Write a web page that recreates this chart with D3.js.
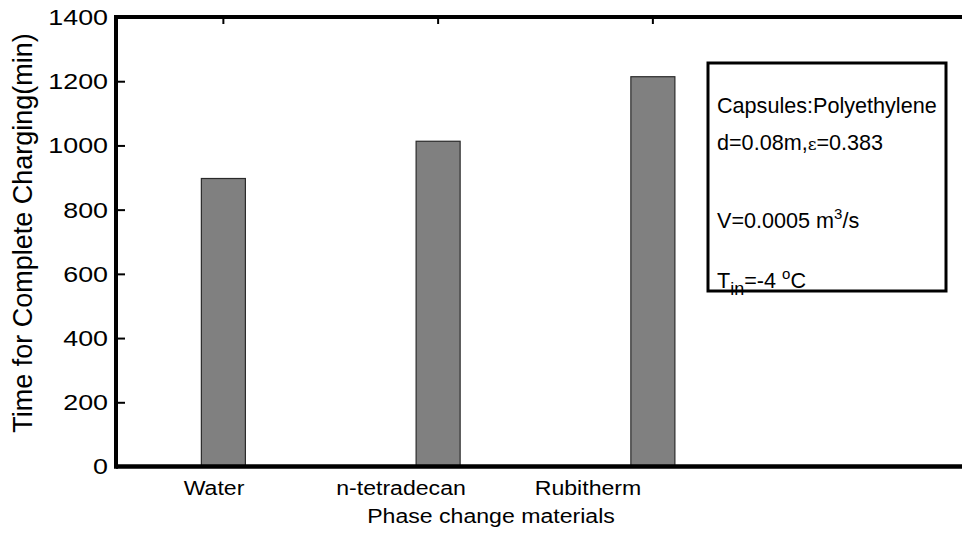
<!DOCTYPE html>
<html>
<head>
<meta charset="utf-8">
<script src="https://cdn.jsdelivr.net/npm/d3@7"></script>
<style>
  html, body { margin: 0; padding: 0; background: #fff; overflow: hidden; }
  svg { display: block; font-family: "Liberation Sans", Arial, sans-serif; }
</style>
</head>
<body>
<svg id="chart" width="962" height="533"></svg>
<script>
// Charging time for each phase change material
const materials = ["Water", "n-tetradecan", "Rubitherm"];
const chargeTime = [897, 1013, 1214];
const yTicks = [0, 200, 400, 600, 800, 1000, 1200, 1400];
const noteLines = ["Capsules:Polyethylene", "d=0.08m,\u03b5=0.383", "V=0.0005 m", "T"];

const svg = d3.select("#chart");
const W = 962, H = 533;
const plotLeft = 116, plotTop = 17, plotBottom = 466.5;

// category positions for the bars and for the tick text
const x = d3.scaleLinear().domain([0.5, 4.5]).range([plotLeft, 975]);
const xText = d3.scaleLinear().domain([0.5, 4.5]).range([120, 868]);
const y = d3.scaleLinear().domain([0, 1400]).range([plotBottom, plotTop]);
const barW = 0.205;

// bars
svg.append("g").selectAll("rect")
  .data(chargeTime)
  .join("rect")
  .attr("x", (d, i) => x(i + 1 - barW / 2))
  .attr("width", (d, i) => x(i + 1 + barW / 2) - x(i + 1 - barW / 2))
  .attr("y", d => y(d))
  .attr("height", d => y(0) - y(d))
  .attr("fill", "#808080")
  .attr("stroke", "#2a2a2a")
  .attr("stroke-width", 1.2);

// y axis ticks (inward) and labels
const yAxis = svg.append("g").attr("transform", `translate(${plotLeft + 1},0)`)
  .call(d3.axisRight(y).tickValues(yTicks).tickSize(8).tickFormat(""));
yAxis.select(".domain").remove();
yAxis.selectAll("line").attr("stroke", "#000").attr("stroke-width", 2);

svg.append("g").selectAll("text")
  .data(yTicks)
  .join("text")
  .attr("transform", d => `translate(${plotLeft - 8},${y(d)}) scale(1.22,1)`)
  .attr("text-anchor", "end")
  .attr("dy", "0.36em")
  .attr("font-size", 22)
  .attr("fill", "#000")
  .text(d => d);

// top axis tick marks
svg.append("g").selectAll("line")
  .data(materials)
  .join("line")
  .attr("x1", (d, i) => x(i + 1)).attr("x2", (d, i) => x(i + 1))
  .attr("y1", plotTop).attr("y2", plotTop + 7)
  .attr("stroke", "#000").attr("stroke-width", 2);

// axis frame
svg.append("line").attr("x1", plotLeft).attr("x2", W).attr("y1", plotTop).attr("y2", plotTop)
  .attr("stroke", "#000").attr("stroke-width", 4);
svg.append("line").attr("x1", plotLeft).attr("x2", W).attr("y1", plotBottom).attr("y2", plotBottom)
  .attr("stroke", "#000").attr("stroke-width", 4.5);
svg.append("line").attr("x1", plotLeft).attr("x2", plotLeft).attr("y1", plotTop - 2).attr("y2", plotBottom + 2.25)
  .attr("stroke", "#000").attr("stroke-width", 4);

// category labels
const xAxis = svg.append("g").attr("transform", `translate(0,${plotBottom})`)
  .call(d3.axisBottom(xText).tickValues([1, 2, 3]).tickSize(0)
    .tickFormat((d, i) => materials[i]));
xAxis.select(".domain").remove();
xAxis.selectAll("text")
  .attr("font-family", "Liberation Sans, Arial, sans-serif")
  .attr("font-size", 21)
  .attr("fill", "#000")
  .attr("y", 0)
  .attr("dy", 0)
  .attr("transform", "translate(0,28.5) scale(1.1,1)");

// axis titles
svg.append("text")
  .attr("transform", `translate(491,523) scale(1.1,1)`)
  .attr("text-anchor", "middle")
  .attr("font-size", 21)
  .text("Phase change materials");

svg.append("text")
  .attr("transform", "translate(32,233) rotate(-90)")
  .attr("text-anchor", "middle")
  .attr("font-size", 27)
  .text("Time for Complete Charging(min)");

// annotation box
const note = svg.append("g");
note.append("rect")
  .attr("x", 708).attr("y", 63).attr("width", 238).attr("height", 228)
  .attr("fill", "#fff").attr("stroke", "#000").attr("stroke-width", 3);

const fs = 21.6;
const noteY = [113, 150, 228, 288];
note.append("text").attr("x", 717).attr("y", noteY[0]).attr("font-size", fs).text(noteLines[0]);

const l2 = note.append("text").attr("x", 717).attr("y", noteY[1]).attr("font-size", fs);
l2.append("tspan").text("d=0.08m,");
l2.append("tspan").attr("font-family", "DejaVu Serif, serif").attr("font-size", 17).text("\u03b5");
l2.append("tspan").text("=0.383");

const l3 = note.append("text").attr("x", 717).attr("y", noteY[2]).attr("font-size", fs);
l3.append("tspan").text(noteLines[2]);
l3.append("tspan").attr("dy", -9).attr("font-size", 15).text("3");
l3.append("tspan").attr("dy", 9).text("/s");

const l4 = note.append("text").attr("x", 717).attr("y", noteY[3]).attr("font-size", fs);
l4.append("tspan").text(noteLines[3]);
l4.append("tspan").attr("dy", 7).attr("font-size", 18).text("in");
l4.append("tspan").attr("dy", -7).text("=-4 ");
l4.append("tspan").attr("dy", -9).attr("font-size", 15).text("o");
l4.append("tspan").attr("dy", 9).text("C");
</script>
</body>
</html>
